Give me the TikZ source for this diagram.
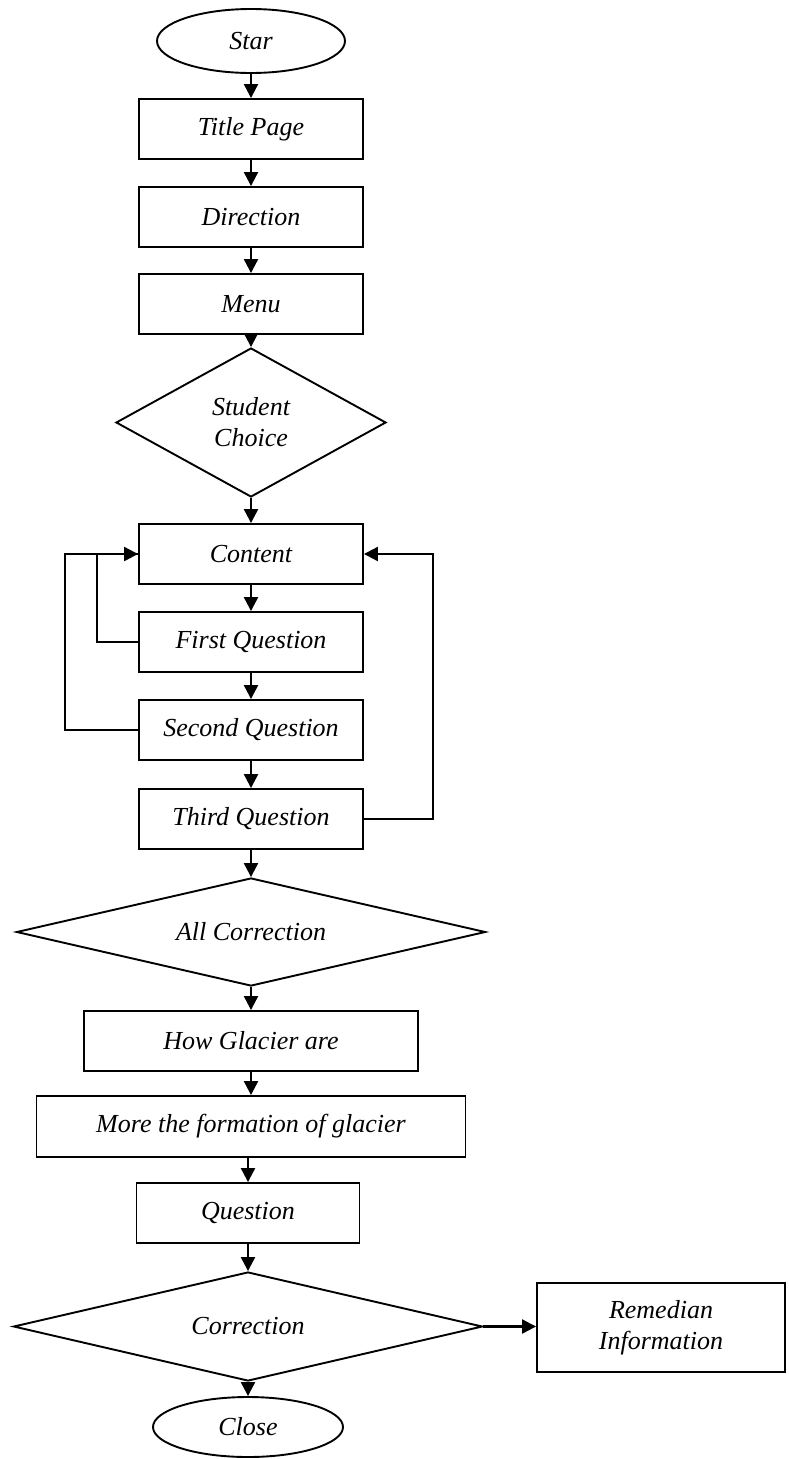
\documentclass[tikz,border=0pt]{standalone}
\usepackage{fontspec}
\setmainfont{Liberation Serif}
\usetikzlibrary{shapes.geometric,arrows.meta}
\begin{document}
\begin{tikzpicture}[x=1pt,y=-1pt,
  every node/.style={font=\fontsize{26}{31}\selectfont\itshape, line width=1.9pt, draw, inner sep=0pt, align=center},
  stepbox/.style={rectangle, minimum width=224pt, minimum height=60pt},
  termin/.style={ellipse},
  decide/.style={diamond},
  conn/.style={line width=2.2pt, -{Triangle[length=14pt,width=14pt]}},
  plain/.style={line width=2.2pt}
]
\useasboundingbox (0,0) rectangle (788,1459);
\node[termin, minimum width=188pt, minimum height=64pt] (star) at (251,41) {Star};
\node[stepbox] (title) at (251,129) {Title Page};
\node[stepbox] (dir) at (251,217) {Direction};
\node[stepbox] (menu) at (251,304) {Menu};
\node[decide, shape aspect=1.81, minimum width=270pt, minimum height=149pt] (choice) at (251,422.5) {Student\\Choice};
\node[stepbox] (content) at (251,554) {Content};
\node[stepbox] (first) at (251,642) {First Question};
\node[stepbox] (second) at (251,730) {Second Question};
\node[stepbox] (third) at (251,819) {Third Question};
\node[decide, shape aspect=4.34, minimum width=469pt, minimum height=108pt] (allcorr) at (251,932) {All Correction};
\node[stepbox, minimum width=334pt] (how) at (251,1041) {How Glacier are};
\node[stepbox, minimum width=429pt, minimum height=61pt] (more) at (251,1126.5) {More the formation of glacier};
\node[stepbox, minimum width=223pt] (question) at (248,1213) {Question};
\node[decide, shape aspect=4.3, minimum width=469pt, minimum height=109pt] (corr) at (248,1326.5) {Correction};
\node[stepbox, minimum width=248pt, minimum height=89pt] (remed) at (661,1327.5) {Remedian\\Information};
\node[termin, minimum width=190pt, minimum height=60pt] (close) at (248,1427) {Close};

\draw[conn] (star) -- (title);
\draw[conn] (title) -- (dir);
\draw[conn] (dir) -- (menu);
\draw[conn] (menu) -- (choice);
\draw[conn] (choice) -- (content);
\draw[conn] (content) -- (first);
\draw[conn] (first) -- (second);
\draw[conn] (second) -- (third);
\draw[conn] (third) -- (allcorr);
\draw[conn] (allcorr) -- (how);
\draw[conn] (how) -- (more);
\draw[conn] (more.south -| question.south) -- (question);
\draw[conn] (question) -- (corr);
\draw[conn] (corr) -- (close);
\draw[conn] (corr.east) -- (remed.west |- corr.east);
\draw[conn] (second.west) -- ++(-73,0) |- (content.west);
\draw[plain] (first.west) -- ++(-41,0) |- (content.west);
\draw[conn] (third.east) -- ++(69,0) |- (content.east);
\end{tikzpicture}
\end{document}
